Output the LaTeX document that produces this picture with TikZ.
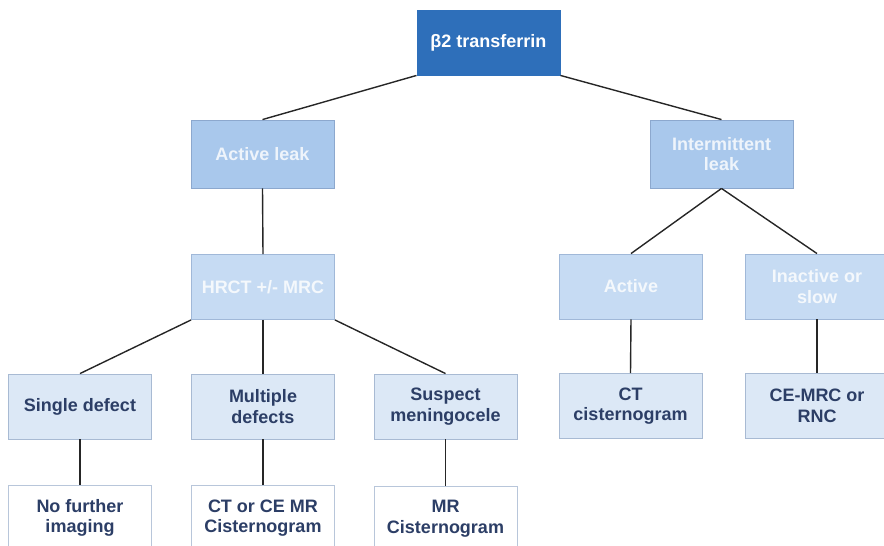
\documentclass[tikz,border=0pt]{standalone}
\usepackage{fontspec}
\setmainfont{Liberation Sans}
\definecolor{topfill}{HTML}{2E6FBA}
\definecolor{lvltwofill}{HTML}{A9C8EC}
\definecolor{lvltwoline}{HTML}{8CA8CE}
\definecolor{lvltwotext}{HTML}{EEF4FB}
\definecolor{lvlthreefill}{HTML}{C6DBF3}
\definecolor{lvlthreeline}{HTML}{A0B8D8}
\definecolor{lvlthreetext}{HTML}{F4F8FC}
\definecolor{lvlfourfill}{HTML}{DCE8F6}
\definecolor{lvlfourline}{HTML}{A8BAD3}
\definecolor{navytext}{HTML}{2C3E66}
\definecolor{lvlfiveline}{HTML}{B8C6DA}
\definecolor{connline}{HTML}{262626}
\begin{document}
\begin{tikzpicture}[x=1pt,y=-1pt,
  box/.style={rectangle, minimum width=143pt, minimum height=65pt, inner sep=2pt,
    align=center, font=\fontsize{18}{20.5}\selectfont\bfseries, line width=0.9pt},
  topbox/.style={box, fill=topfill, draw=topfill, text=white},
  twobox/.style={box, minimum height=68pt, fill=lvltwofill, draw=lvltwoline, text=lvltwotext},
  threebox/.style={box, fill=lvlthreefill, draw=lvlthreeline, text=lvlthreetext},
  fourbox/.style={box, fill=lvlfourfill, draw=lvlfourline, text=navytext},
  fivebox/.style={box, fill=white, draw=lvlfiveline, text=navytext},
  conn/.style={draw=connline, line width=1.4pt}]
\useasboundingbox (0,0) rectangle (884,546);
\clip (0,0) rectangle (884,546);
\node[topbox] (top) at (488.5,42.5) {β2 transferrin};
\node[twobox] (actleak) at (262.5,154) {Active leak};
\node[twobox] (intleak) at (721.5,154) {Intermittent\\leak};
\node[threebox] (hrct) at (263,287) {HRCT +/- MRC};
\node[threebox] (active) at (631,286.5) {Active};
\node[threebox] (inactive) at (817,286.5) {Inactive or\\slow};
\node[fourbox] (single) at (80,406.5) {Single defect};
\node[fourbox] (multiple) at (263,406.5) {Multiple\\defects};
\node[fourbox] (suspect) at (445.5,406.5) {Suspect\\meningocele};
\node[fourbox] (ctcist) at (630.5,406) {CT\\cisternogram};
\node[fourbox] (cemrc) at (817,406) {CE-MRC or\\RNC};
\node[fivebox] (nofurther) at (80,518) {No further\\imaging};
\node[fivebox] (ctorce) at (263,518) {CT or CE MR\\Cisternogram};
\node[fivebox] (mrcist) at (445.5,518.5) {MR\\Cisternogram};
\draw[conn] (top.south west) -- (actleak.north);
\draw[conn] (top.south east) -- (intleak.north);
\draw[conn] (actleak.south) -- (hrct.north);
\draw[conn] (intleak.south) -- (active.north);
\draw[conn] (intleak.south) -- (inactive.north);
\draw[conn] (hrct.south west) -- (single.north);
\draw[conn] (hrct.south) -- (multiple.north);
\draw[conn] (hrct.south east) -- (suspect.north);
\draw[conn] (active.south) -- (ctcist.north);
\draw[conn] (inactive.south) -- (cemrc.north);
\draw[conn] (single.south) -- (nofurther.north);
\draw[conn] (multiple.south) -- (ctorce.north);
\draw[conn] (suspect.south) -- (mrcist.north);
\end{tikzpicture}
\end{document}
